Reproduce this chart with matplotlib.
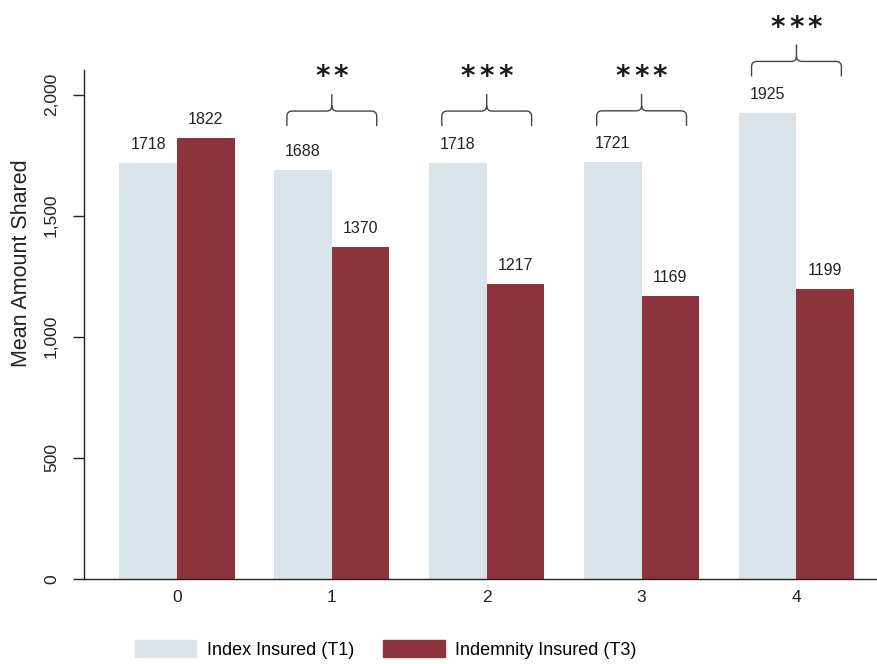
import matplotlib
matplotlib.use('Agg')
import matplotlib.pyplot as plt
from matplotlib.path import Path
from matplotlib.patches import PathPatch, Patch

# Mean amount shared per period, by treatment group
periodos = [0, 1, 2, 3, 4]
index_t1 = [1718, 1688, 1718, 1721, 1925]
indemnity_t3 = [1822, 1370, 1217, 1169, 1199]
# significance of the T1 vs T3 difference in each period
estrelas = ['', '**', '***', '***', '***']

cor_t1 = '#d8e3ea'
cor_t3 = '#8c333b'

plt.rcParams['font.family'] = ['Liberation Sans', 'DejaVu Sans']

fig = plt.figure(figsize=(8.77, 6.64), dpi=100)
ax = fig.add_axes([0.0958, 0.128, 0.9042, 0.766])

largura = 0.372
x1 = [p - largura / 2 for p in periodos]
x3 = [p + largura / 2 for p in periodos]
ax.bar(x1, index_t1, width=largura, color=cor_t1, label='Index Insured (T1)')
ax.bar(x3, indemnity_t3, width=largura, color=cor_t3, label='Indemnity Insured (T3)')

# value labels above each bar
for x, v in zip(x1, index_t1):
    ax.text(x, v + 45, str(v), ha='center', va='bottom', fontsize=11.5, color='#222222')
for x, v in zip(x3, indemnity_t3):
    ax.text(x, v + 45, str(v), ha='center', va='bottom', fontsize=11.5, color='#222222')


def chave(ax, xc, base, meia=0.29, alt=62, ponta=70):
    # curly brace opening downwards with the tip pointing up
    rx, ry = 0.035, 22
    topo = base + alt
    verts = [
        (xc - meia, base), (xc - meia, topo - ry),
        (xc - meia, topo), (xc - meia + rx, topo),
        (xc - rx, topo),
        (xc, topo), (xc, topo + ry),
        (xc, topo + ponta),
        (xc, topo + ry), (xc, topo), (xc + rx, topo),
        (xc + meia - rx, topo),
        (xc + meia, topo), (xc + meia, topo - ry),
        (xc + meia, base),
    ]
    codes = [Path.MOVETO, Path.LINETO,
             Path.CURVE3, Path.CURVE3,
             Path.LINETO,
             Path.CURVE3, Path.CURVE3,
             Path.LINETO,
             Path.MOVETO, Path.CURVE3, Path.CURVE3,
             Path.LINETO,
             Path.CURVE3, Path.CURVE3,
             Path.LINETO]
    ax.add_patch(PathPatch(Path(verts, codes), fill=False, lw=1.0,
                           edgecolor='#444444', clip_on=False))
    return topo + ponta


for p, a, b, s in zip(periodos, index_t1, indemnity_t3, estrelas):
    if not s:
        continue
    base = max(a, b, 1720) + 150
    topo = chave(ax, p, base)
    n = len(s)
    for i in range(n):
        ax.text(p + (i - (n - 1) / 2) * 0.12, topo + 82, '*', ha='center',
                va='center_baseline', fontsize=20, fontweight='bold',
                family='DejaVu Sans', color='#1a1a1a', clip_on=False)

ax.set_xlim(-0.6, 4.52)
ax.set_ylim(0, 2100)
ax.set_xticks(periodos)
ax.set_xticklabels([str(p) for p in periodos])
ax.set_yticks([0, 500, 1000, 1500, 2000])
ax.set_yticklabels(['0', '500', '1,000', '1,500', '2,000'], rotation=90, va='center')
ax.tick_params(axis='both', labelsize=12.5, colors='#222222', length=8, width=1)
ax.tick_params(axis='y', pad=10)
ax.tick_params(axis='x', length=0, pad=8)
ax.set_ylabel('Mean Amount Shared', fontsize=15.5, color='#222222')
ax.yaxis.set_label_coords(-0.066, 0.62)

ax.spines['top'].set_visible(False)
ax.spines['right'].set_visible(False)
for lado in ['left', 'bottom']:
    ax.spines[lado].set_color('#222222')
    ax.spines[lado].set_linewidth(1.0)

fig.legend(handles=[Patch(color=cor_t1, label='Index Insured (T1)'),
                    Patch(color=cor_t3, label='Indemnity Insured (T3)')],
           loc='center', bbox_to_anchor=(0.44, 0.022), ncol=2, frameon=False,
           fontsize=13, handlelength=3.4, handleheight=1.1,
           handletextpad=0.6, columnspacing=1.6)

plt.savefig('out.png', dpi=100)
